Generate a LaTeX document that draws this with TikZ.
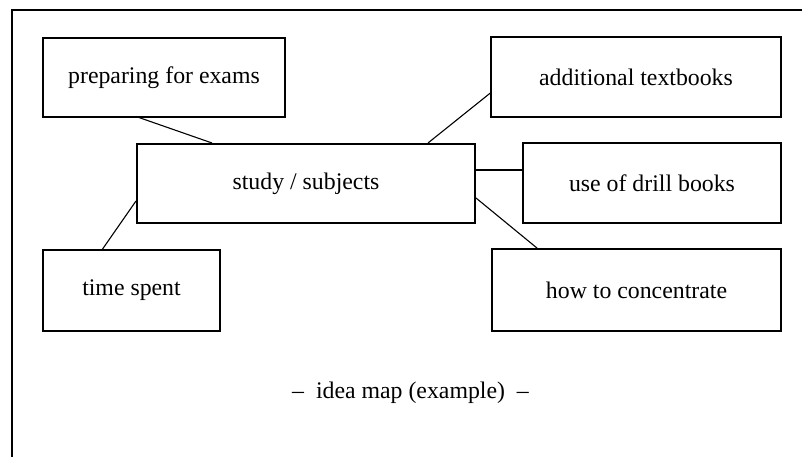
\documentclass[tikz,border=0pt]{standalone}
\usetikzlibrary{calc}
\usepackage{fontspec}
\setmainfont{Liberation Serif}
\begin{document}
\begin{tikzpicture}[x=1pt,y=-1pt,
  every node/.style={font=\fontsize{23.8}{28}\selectfont},
  idea/.style={draw, line width=1.3pt, rectangle, inner sep=0pt},
  central/.style={draw, line width=2pt, rectangle, inner sep=0pt},
  link/.style={line width=1.1pt}]
\useasboundingbox (0,0) rectangle (802,457);
\coordinate (ftr) at (802,10);
\coordinate (ftl) at (12,10);
\coordinate (fbl) at (12,457);
\draw[line width=1.3pt] (ftr) -- (ftl) -- (fbl);
\node[idea, minimum width=242pt, minimum height=79pt] (prep) at (164,77.5) {preparing for exams};
\node[central, minimum width=338pt, minimum height=79pt] (study) at (306,183.5) {study / subjects};
\node[idea, minimum width=290pt, minimum height=80pt] (add) at (636,77) {additional textbooks};
\node[idea, minimum width=258pt, minimum height=80pt] (drill) at (652,183) {use of drill books};
\node[idea, minimum width=289pt, minimum height=82pt] (conc) at (636.5,290) {how to concentrate};
\node[idea, minimum width=177pt, minimum height=81pt] (time) at (131.5,290.5) {time spent};
\node (cap) at (410.5,393) {--\enskip idea map (example)\enskip--};
\draw[link] ($(prep.south west)+(97,0)$) -- ($(study.north west)+(76,0)$);
\draw[link] ($(add.west)+(0,16)$) -- ($(study.north east)+(-48,0)$);
\draw[link] ($(study.east)+(0,-13.5)$) coordinate (d1) -- (d1 -| drill.west);
\draw[link] ($(study.east)+(0,14.5)$) -- ($(conc.north west)+(46,0)$);
\draw[link] ($(time.north west)+(60,0)$) -- ($(study.south west)+(0,-23)$);
\end{tikzpicture}
\end{document}
